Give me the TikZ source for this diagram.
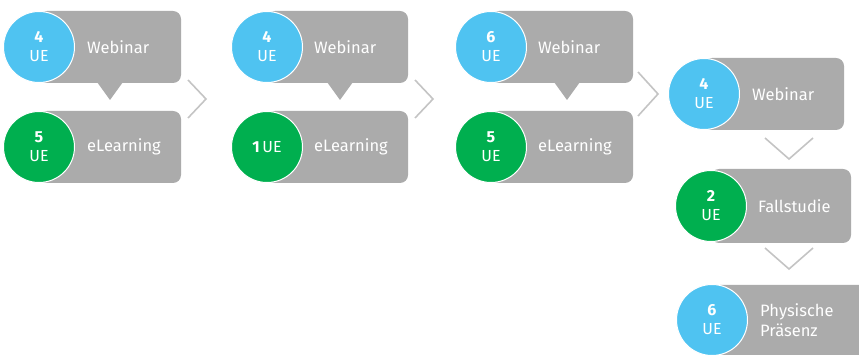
\documentclass[tikz,border=0pt]{standalone}
\usepackage{fontspec}
\setmainfont{Fira Sans}
\begin{document}
\begin{tikzpicture}[x=1pt,y=-1pt,
  box/.style={fill=boxgray,rounded corners=8pt},
  bluec/.style={circle,fill=ueblue,draw=white,line width=1pt,minimum size=71pt,inner sep=0pt,text=white,font=\fontsize{16}{19}\selectfont,align=center},
  greenc/.style={bluec,fill=uegreen},
  lbl/.style={anchor=west,text=white,font=\fontsize{16.5}{19.5}\selectfont,inner sep=0pt,align=left},
  chev/.style={draw=chevgray,line width=1.6pt},
  ptr/.style={fill=boxgray}]
\definecolor{boxgray}{HTML}{ABABAB}
\definecolor{ueblue}{HTML}{4FC3F1}
\definecolor{uegreen}{HTML}{00AF4F}
\definecolor{chevgray}{HTML}{C4C4C4}
\useasboundingbox (0,0) rectangle (859,355);
% column boxes
\foreach \cx/\tx/\r in {39/110/181, 267/340/408, 491/567/633}{
  \fill[box] (\cx,11) rectangle (\r,83);
  \fill[ptr] (\tx-13,82) -- (\tx+13,82) -- (\tx,100) -- cycle;
  \fill[box] (\cx,111) rectangle (\r,183);
}
\fill[box] (704,58) rectangle (844,130);
\fill[box] (711,169) rectangle (851,243);
\fill[box] (712,285) rectangle (870,360);
% circles
\node[bluec] (a1) at (39,47) {\textbf{4}\\UE};
\node[greenc] (b1) at (39,147) {\textbf{5}\\UE};
\node[bluec] (a2) at (267,47) {\textbf{4}\\UE};
\node[greenc] (b2) at (267,147) {\textbf{1}\,UE};
\node[bluec] (a3) at (491,47) {\textbf{6}\\UE};
\node[greenc] (b3) at (491,147) {\textbf{5}\\UE};
\node[bluec] (c1) at (704,94) {\textbf{4}\\UE};
\node[greenc] (c2) at (711,206) {\textbf{2}\\UE};
\node[bluec] (c3) at (712,320) {\textbf{6}\\UE};
% labels
\node[lbl] (la1) at (87,47) {Webinar};
\node[lbl] (lb1) at (87,147) {eLearning};
\node[lbl] (la2) at (314,47) {Webinar};
\node[lbl] (lb2) at (314,147) {eLearning};
\node[lbl] (la3) at (538,47) {Webinar};
\node[lbl] (lb3) at (538,147) {eLearning};
\node[lbl] (lc1) at (752,94) {Webinar};
\node[lbl] (lc2) at (758,206) {Fallstudie};
\node[lbl] (lc3) at (760,320) {Physische\\Präsenz};
% chevrons
\coordinate (k1a) at (188,80); \coordinate (k1b) at (206,99); \coordinate (k1c) at (188,118);
\coordinate (k2a) at (415,80); \coordinate (k2b) at (433,99); \coordinate (k2c) at (415,118);
\coordinate (k3a) at (638,72); \coordinate (k3b) at (658,94); \coordinate (k3c) at (638,116);
\coordinate (k4a) at (765,138); \coordinate (k4b) at (789,159); \coordinate (k4c) at (813,138);
\coordinate (k5a) at (765,248); \coordinate (k5b) at (789,269); \coordinate (k5c) at (813,248);
\draw[chev] (k1a) -- (k1b) -- (k1c);
\draw[chev] (k2a) -- (k2b) -- (k2c);
\draw[chev] (k3a) -- (k3b) -- (k3c);
\draw[chev] (k4a) -- (k4b) -- (k4c);
\draw[chev] (k5a) -- (k5b) -- (k5c);
\end{tikzpicture}
\end{document}
